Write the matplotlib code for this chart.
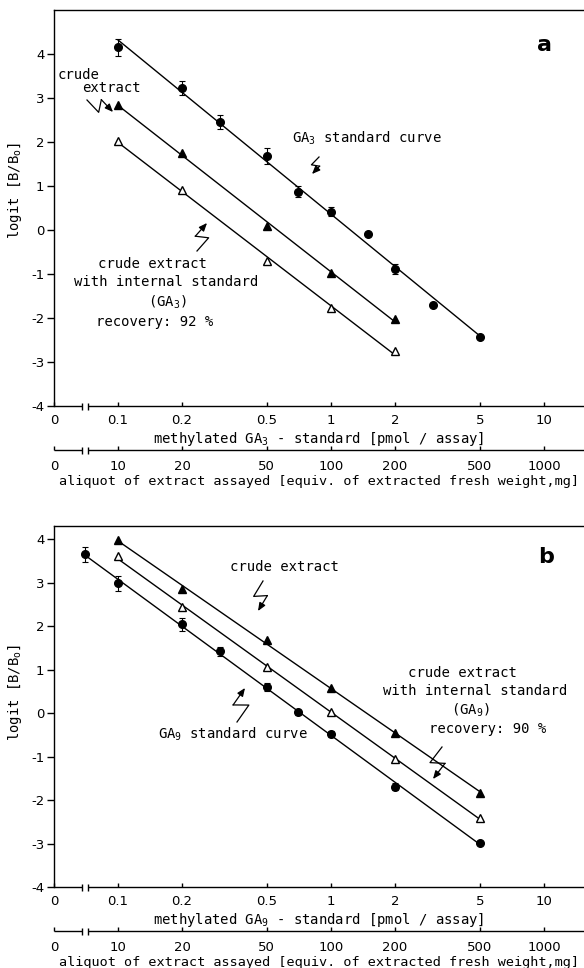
import numpy as np
import matplotlib
matplotlib.use("Agg")
import matplotlib.pyplot as plt
from matplotlib.lines import Line2D
from matplotlib.patches import FancyArrowPatch

plt.rcParams['axes.unicode_minus'] = False
plt.rcParams['font.family'] = ['DejaVu Sans']

# ---------------- data (pmol/assay, logit B/Bo) ----------------
a_std_x = [0.1, 0.2, 0.3, 0.5, 0.7, 1.0, 1.5, 2.0, 3.0, 5.0]
a_std_y = [4.15, 3.22, 2.45, 1.68, 0.87, 0.42, -0.10, -0.89, -1.70, -2.43]
a_std_err = [0.20, 0.16, 0.16, 0.18, 0.12, 0.10, 0.0, 0.12, 0.0, 0.0]
a_crude_x = [0.1, 0.2, 0.5, 1.0, 2.0]
a_crude_y = [2.84, 1.75, 0.10, -0.98, -2.03]
a_int_x = [0.1, 0.2, 0.5, 1.0, 2.0]
a_int_y = [2.03, 0.90, -0.70, -1.78, -2.75]

b_std_x = [0.07, 0.1, 0.2, 0.3, 0.5, 0.7, 1.0, 2.0, 5.0]
b_std_y = [3.65, 2.98, 2.04, 1.42, 0.60, 0.02, -0.48, -1.70, -2.98]
b_std_err = [0.17, 0.17, 0.15, 0.10, 0.10, 0.06, 0.06, 0.08, 0.0]
b_crude_x = [0.1, 0.2, 0.5, 1.0, 2.0, 5.0]
b_crude_y = [3.97, 2.85, 1.68, 0.58, -0.47, -1.83]
b_int_x = [0.1, 0.2, 0.5, 1.0, 2.0, 5.0]
b_int_y = [3.60, 2.44, 1.05, 0.03, -1.06, -2.41]

pmol_ticks = [0.1, 0.2, 0.5, 1, 2, 5, 10]
pmol_labels = ["0.1", "0.2", "0.5", "1", "2", "5", "10"]
mg_ticks = [10, 20, 50, 100, 200, 500, 1000]
mg_labels = ["10", "20", "50", "100", "200", "500", "1000"]
mg_per_pmol = 100.0

# ---------------- layout ----------------
W, H = 584, 968
fig = plt.figure(figsize=(W / 100, H / 100), dpi=100)
MONO = ['DejaVu Sans Mono', 'DejaVu Sans']
FS = 10

XLO, XHI = -1.300, 1.188      # log10 units
BRK1, BRK2 = -1.170, -1.140


def fx(x):
    return x / W


def fy(y):
    return 1 - y / H


def txt(x, y, s, ha='center', fs=FS, **kw):
    fig.text(fx(x), fy(y), s, ha=ha, va='center', fontsize=fs,
             family=MONO, **kw)


def bolt(p0, p1, k=0.22):
    x0, y0 = p0
    x1, y1 = p1
    dx, dy = x1 - x0, y1 - y0
    L = np.hypot(dx, dy)
    nx, ny = -dy / L, dx / L
    m1 = (x0 + 0.55 * dx + k * L * nx, y0 + 0.55 * dy + k * L * ny)
    m2 = (x0 + 0.45 * dx - k * L * nx, y0 + 0.45 * dy - k * L * ny)
    pts = [p0, m1, m2]
    fig.add_artist(Line2D([fx(p[0]) for p in pts], [fy(p[1]) for p in pts],
                          color='k', lw=0.9, transform=fig.transFigure))
    fig.add_artist(FancyArrowPatch((fx(m2[0]), fy(m2[1])), (fx(x1), fy(y1)),
                                   transform=fig.transFigure,
                                   arrowstyle='-|>,head_length=0.6,head_width=0.25',
                                   mutation_scale=8, color='k', lw=0.9,
                                   shrinkA=0, shrinkB=0))


def broken_line(ax, yfrac, hpx):
    tr = ax.get_xaxis_transform()
    kw = dict(transform=tr, clip_on=False, color='k', lw=1.0,
              solid_capstyle='butt')
    ax.plot([XLO, BRK1], [yfrac, yfrac], **kw)
    ax.plot([BRK2, XHI], [yfrac, yfrac], **kw)
    b = 3.5 / hpx
    for xb in (BRK1, BRK2):
        ax.plot([xb, xb], [yfrac - b, yfrac + b], **kw)


def setup(ax, ylim, hpx, xl, sl, ylab_y):
    ax.set_xlim(XLO, XHI)
    ax.set_ylim(*ylim)
    for s in ('right', 'bottom'):
        ax.spines[s].set_visible(False)
    ax.spines['left'].set_linewidth(1.0)
    ax.spines['top'].set_linewidth(1.0)
    broken_line(ax, 0.0, hpx)
    ax.set_xticks([XLO] + list(np.log10(pmol_ticks)))
    ax.set_xticklabels(["0"] + pmol_labels)
    ax.tick_params(axis='x', direction='in', length=3, width=1, pad=6,
                   labelsize=9.5)
    ax.set_yticks(range(-4, 5))
    ax.set_yticklabels([str(v) for v in range(-4, 5)])
    ax.tick_params(axis='y', direction='out', length=5, width=1, pad=2,
                   labelsize=9.5)
    ax.set_xlabel(xl, fontsize=FS, family=MONO, labelpad=2)
    ax.set_ylabel(r"logit [B/B$_\mathregular{o}$]", fontsize=FS, family=MONO)
    ax.yaxis.set_label_coords(-0.056, ylab_y)

    loc = -44.0 / hpx
    sec = ax.secondary_xaxis(loc, functions=(lambda v: v, lambda v: v))
    for s in sec.spines.values():
        s.set_visible(False)
    sec.set_xticks([XLO] + list(np.log10(np.array(mg_ticks) / mg_per_pmol)))
    sec.set_xticklabels(["0"] + mg_labels)
    sec.tick_params(axis='x', direction='in', length=3, width=1, pad=7.5,
                    labelsize=9.5)
    sec.set_xlabel(sl, fontsize=9.7, family=MONO, labelpad=1)
    broken_line(ax, loc, hpx)


def series(ax, x, y, marker, mfc, err=None, ms=5.5):
    lx = np.log10(x)
    y = np.asarray(y)
    coef = np.polyfit(lx, y, 1)
    xs = np.array([lx.min(), lx.max()])
    ax.plot(xs, np.polyval(coef, xs), color='k', lw=1.0, zorder=2)
    if err is not None:
        ax.errorbar(lx, y, yerr=err, fmt='none', ecolor='k', elinewidth=0.8,
                    capsize=2.5, capthick=0.8, zorder=3)
    ax.plot(lx, y, linestyle='none', marker=marker, ms=ms, mfc=mfc,
            mec='k', mew=1.0, zorder=4)


# ---------------- panel a ----------------
ax_a = fig.add_axes([fx(54), fy(406), 530 / W, 396 / H])
setup(ax_a, (-4, 5.0), 396,
      "methylated GA$_\\mathregular{3}$ - standard [pmol / assay]",
      "aliquot of extract assayed [equiv. of extracted fresh weight,mg]",
      0.545)
series(ax_a, a_std_x, a_std_y, 'o', 'k', err=a_std_err)
series(ax_a, a_crude_x, a_crude_y, '^', 'k', ms=6)
series(ax_a, a_int_x, a_int_y, '^', 'white', ms=5.5)

# ---------------- panel b ----------------
ax_b = fig.add_axes([fx(54), fy(887), 530 / W, 361 / H])
setup(ax_b, (-4, 4.3), 361,
      "methylated GA$_\\mathregular{9}$ - standard [pmol / assay]",
      "aliquot of extract assayed [equiv. of extracted fresh weight,mg]",
      0.54)
series(ax_b, b_std_x, b_std_y, 'o', 'k', err=b_std_err)
series(ax_b, b_crude_x, b_crude_y, '^', 'k', ms=6)
series(ax_b, b_int_x, b_int_y, '^', 'white', ms=5.5)

# ---------------- annotations panel a ----------------
txt(58, 75, "crude", ha='left')
txt(82, 88, "extract", ha='left')
bolt((87, 100), (113, 112))
txt(367, 138, "GA$_\\mathregular{3}$ standard curve")
bolt((319, 157), (312, 174))
txt(152, 264, "crude extract")
txt(166, 282, "with internal standard")
txt(167, 302, "(GA$_\\mathregular{3}$)")
txt(155, 322, "recovery: 92 %")
bolt((197, 251), (207, 223))
fig.text(fx(544), fy(45), "a", ha='center', va='center', fontsize=16,
         fontweight='bold', family='DejaVu Sans')

# ---------------- annotations panel b ----------------
txt(284, 567, "crude extract")
bolt((263, 581), (258, 611))
txt(233, 734, "GA$_\\mathregular{9}$ standard curve")
bolt((237, 722), (245, 688))
txt(462, 673, "crude extract")
txt(475, 691, "with internal standard")
txt(470, 710, "(GA$_\\mathregular{9}$)")
txt(488, 729, "recovery: 90 %")
bolt((442, 747), (433, 779))
fig.text(fx(546), fy(557), "b", ha='center', va='center', fontsize=16,
         fontweight='bold', family='DejaVu Sans')

fig.savefig("out.png", dpi=100)
